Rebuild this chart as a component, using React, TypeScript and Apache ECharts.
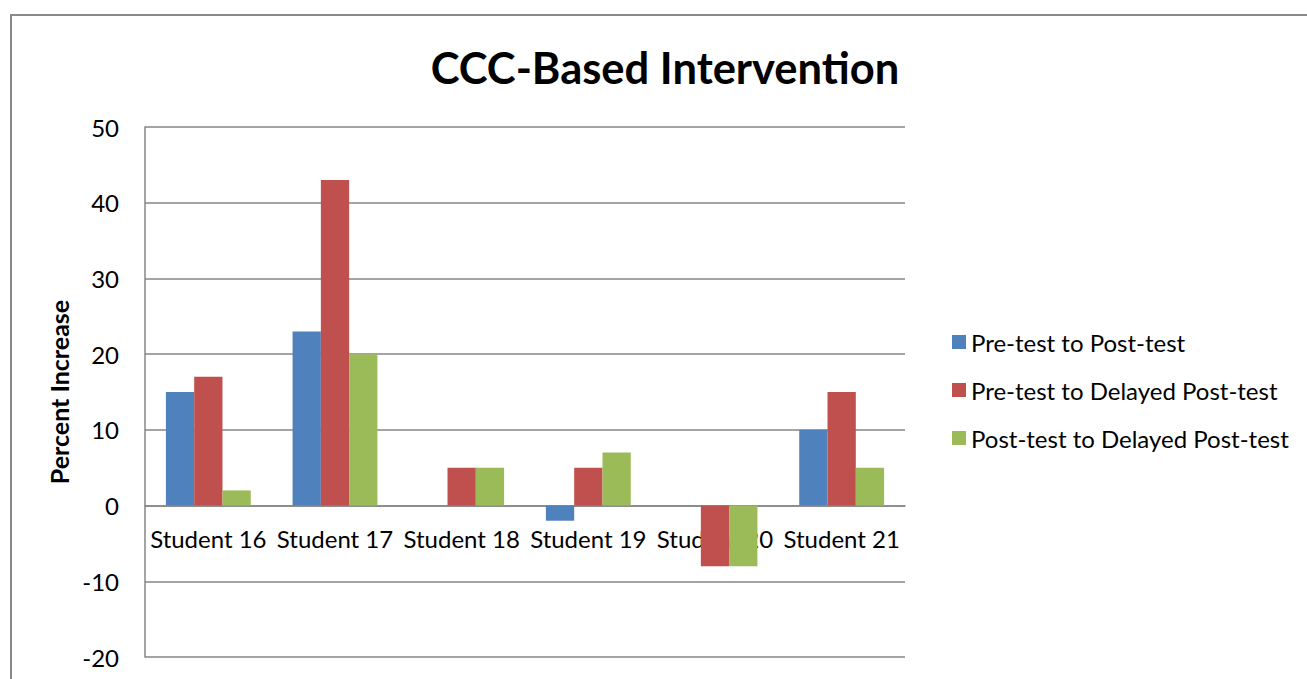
import React, { useEffect, useRef } from "react";
import * as echarts from "echarts";

const categories = ["Student 16", "Student 17", "Student 18", "Student 19", "Student 20", "Student 21"];
const seriesNames = ["Pre-test to Post-test", "Pre-test to Delayed Post-test", "Post-test to Delayed Post-test"];
const preToPost = [15, 23, 0, -2, 0, 10];
const preToDelayed = [17, 43, 5, 5, -8, 15];
const postToDelayed = [2, 20, 5, 7, -8, 5];
const colors = ["#4F81BD", "#C0504D", "#9BBB59"];
const yMin = -20;
const yMax = 50;
const yStep = 10;

const FONT = "Lato";
const GRID_TOP = 127;
const GRID_BOTTOM_PX = 657;

export default function App() {
  const ref = useRef<HTMLDivElement>(null);
  useEffect(() => {
    if (!ref.current) return;
    const chart = echarts.init(ref.current, undefined, { renderer: "svg" });
    const values = [preToPost, preToDelayed, postToDelayed];
    const plotH = GRID_BOTTOM_PX - GRID_TOP;
    const zeroOffset = ((0 - yMin) / (yMax - yMin)) * plotH;
    chart.setOption({
      animation: false,
      backgroundColor: "#ffffff",
      textStyle: { fontFamily: FONT },
      title: {
        text: "CCC-Based Intervention",
        left: 660,
        top: 40,
        textAlign: "center",
        textStyle: { fontFamily: FONT, fontWeight: "bold", fontSize: 43.5, color: "#000" },
      },
      legend: {
        orient: "vertical",
        left: 947,
        top: 323,
        itemWidth: 14,
        itemHeight: 14,
        itemGap: 20,
        icon: "rect",
        textStyle: { fontFamily: FONT, fontSize: 24, color: "#000", lineHeight: 28 },
        data: seriesNames,
      },
      grid: { left: 145, top: GRID_TOP, right: 402, bottom: 679 - GRID_BOTTOM_PX, containLabel: false, outerBoundsMode: "none" },
      xAxis: {
        type: "category",
        data: categories,
        offset: -zeroOffset,
        axisLine: { show: true, onZero: false, lineStyle: { color: "#868686", width: 1.5 } },
        axisTick: { show: false },
        axisLabel: { fontFamily: FONT, fontSize: 24, color: "#000", margin: 21, interval: 0 },
        z: 0,
      },
      yAxis: {
        type: "value",
        min: yMin,
        max: yMax,
        interval: yStep,
        name: "Percent Increase",
        nameLocation: "middle",
        nameGap: 74,
        nameRotate: 90,
        nameTextStyle: { fontFamily: FONT, fontWeight: "bold", fontSize: 25, color: "#000" },
        axisLine: { show: true, lineStyle: { color: "#868686", width: 1.5 } },
        axisTick: { show: false },
        axisLabel: { fontFamily: FONT, fontSize: 24, color: "#000", margin: 26 },
        splitLine: { show: true, lineStyle: { color: "#868686", width: 1.5 } },
      },
      graphic: [
        {
          type: "rect",
          shape: { x: 11, y: 15, width: 1400, height: 800 },
          style: { fill: "none", stroke: "#898989", lineWidth: 2 },
          silent: true,
        },
      ],
      series: seriesNames.map((name, i) => ({
        name,
        type: "bar",
        data: values[i],
        barGap: "0%",
        barCategoryGap: "33%",
        itemStyle: { color: colors[i] },
        z: 3,
      })),
    });
    return () => chart.dispose();
  }, []);
  return <div ref={ref} style={{ position: "fixed", left: 0, top: 0, width: 1307, height: 679 }} />;
}
